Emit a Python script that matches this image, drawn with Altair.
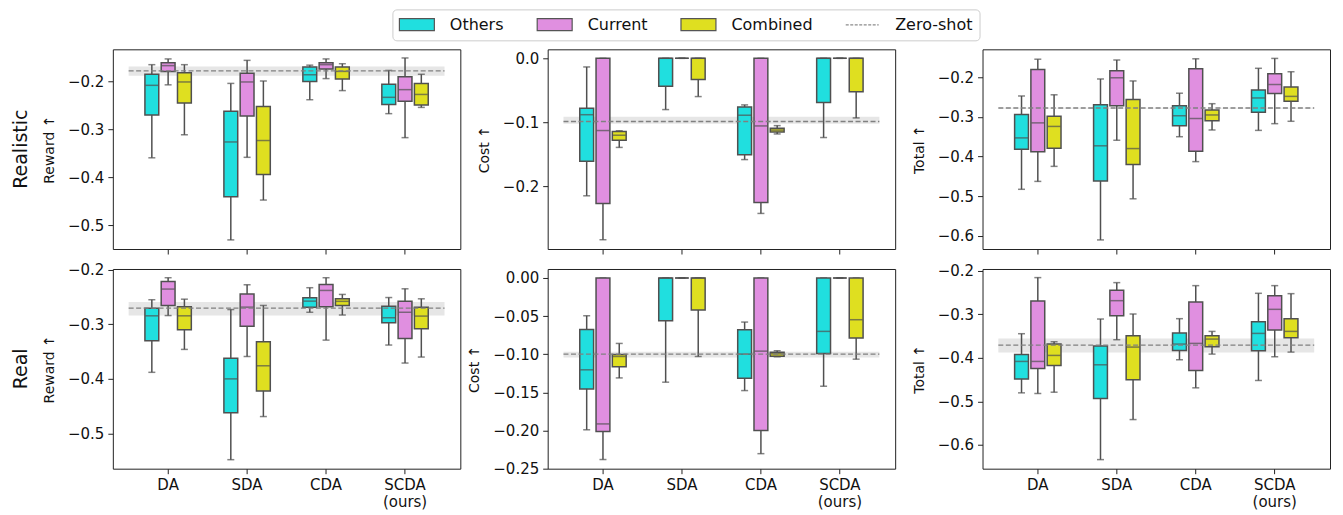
import altair as alt
import pandas as pd

FONT = "DejaVu Sans"
LINE = "#505050"

categories = ["DA", "SDA", "CDA", "SCDA (ours)"]
series_names = ["Others", "Current", "Combined"]
legend_names = ["Others", "Current", "Combined", "Zero-shot"]
series_colors = ["#20dfdf", "#e08fe0", "#dfdf20"]
row_labels = ["Realistic", "Real"]
metric_labels = ["Reward ↑", "Cost ↑", "Total ↑"]

# each tuple: (lower whisker, Q1, median, Q3, upper whisker), one per category
realistic_reward_others = [(-0.359, -0.270, -0.208, -0.185, -0.165), (-0.530, -0.440, -0.326, -0.262, -0.204),
                           (-0.238, -0.200, -0.186, -0.170, -0.166), (-0.267, -0.248, -0.233, -0.206, -0.177)]
realistic_reward_current = [(-0.207, -0.179, -0.167, -0.161, -0.153), (-0.358, -0.272, -0.201, -0.183, -0.156),
                            (-0.194, -0.174, -0.165, -0.161, -0.153), (-0.317, -0.241, -0.217, -0.190, -0.151)]
realistic_reward_combined = [(-0.311, -0.245, -0.201, -0.182, -0.165), (-0.447, -0.394, -0.323, -0.252, -0.199),
                             (-0.219, -0.195, -0.179, -0.170, -0.163), (-0.254, -0.249, -0.227, -0.204, -0.185)]

realistic_cost_others = [(-0.2145, -0.1605, -0.088, -0.078, -0.0135), (-0.080, -0.0436, 0.0, 0.0, 0.0),
                         (-0.158, -0.1506, -0.0888, -0.0758, -0.0727), (-0.1236, -0.069, 0.0, 0.0, 0.0)]
realistic_cost_current = [(-0.283, -0.2265, -0.1127, 0.0, 0.0), (0.0, 0.0, 0.0, 0.0, 0.0),
                          (-0.242, -0.225, -0.1055, 0.0, 0.0), (0.0, 0.0, 0.0, 0.0, 0.0)]
realistic_cost_combined = [(-0.139, -0.128, -0.120, -0.1143, -0.113), (-0.0597, -0.0332, 0.0, 0.0, 0.0),
                           (-0.118, -0.115, -0.112, -0.109, -0.105), (-0.093, -0.052, 0.0, 0.0, 0.0)]

realistic_total_others = [(-0.483, -0.382, -0.353, -0.294, -0.247), (-0.611, -0.462, -0.373, -0.269, -0.204),
                          (-0.350, -0.322, -0.297, -0.2716, -0.240), (-0.334, -0.288, -0.252, -0.232, -0.177)]
realistic_total_current = [(-0.463, -0.388, -0.315, -0.180, -0.154), (-0.359, -0.2716, -0.201, -0.183, -0.156),
                           (-0.413, -0.387, -0.304, -0.178, -0.153), (-0.317, -0.241, -0.218, -0.191, -0.152)]
realistic_total_combined = [(-0.425, -0.379, -0.324, -0.2985, -0.244), (-0.507, -0.420, -0.380, -0.256, -0.209),
                            (-0.333, -0.3095, -0.295, -0.2825, -0.2665), (-0.311, -0.2606, -0.248, -0.2244, -0.1857)]

real_reward_others = [(-0.388, -0.330, -0.2845, -0.2704, -0.255), (-0.548, -0.462, -0.400, -0.362, -0.273),
                      (-0.278, -0.269, -0.2576, -0.2514, -0.233), (-0.338, -0.297, -0.288, -0.267, -0.251)]
real_reward_current = [(-0.284, -0.2655, -0.2355, -0.2214, -0.2147), (-0.359, -0.3035, -0.2686, -0.2447, -0.2276),
                       (-0.329, -0.268, -0.238, -0.227, -0.2147), (-0.371, -0.326, -0.278, -0.2576, -0.235)]
real_reward_combined = [(-0.346, -0.310, -0.2845, -0.268, -0.254), (-0.469, -0.422, -0.376, -0.332, -0.2655),
                        (-0.283, -0.2655, -0.258, -0.2533, -0.2453), (-0.360, -0.308, -0.285, -0.269, -0.2533)]

real_cost_others = [(-0.199, -0.1454, -0.1204, -0.0674, -0.0495), (-0.1366, -0.056, 0.0, 0.0, 0.0),
                    (-0.1476, -0.1313, -0.0998, -0.0679, -0.0578), (-0.1419, -0.099, -0.070, 0.0, 0.0)]
real_cost_current = [(-0.238, -0.2014, -0.1913, 0.0, 0.0), (0.0, 0.0, 0.0, 0.0, 0.0),
                     (-0.2303, -0.2001, -0.0959, 0.0, 0.0), (0.0, 0.0, 0.0, 0.0, 0.0)]
real_cost_combined = [(-0.131, -0.1165, -0.1029, -0.1003, -0.0858), (-0.1029, -0.042, 0.0, 0.0, 0.0),
                      (-0.1033, -0.1025, -0.0994, -0.0972, -0.0954), (-0.1064, -0.0788, -0.0547, 0.0, 0.0)]

real_total_others = [(-0.4805, -0.449, -0.4084, -0.3923, -0.3448), (-0.6337, -0.4935, -0.4161, -0.3732, -0.3111),
                     (-0.4046, -0.3831, -0.3686, -0.3433, -0.3103), (-0.4521, -0.3839, -0.3441, -0.3172, -0.2521)]
real_total_current = [(-0.482, -0.4245, -0.4084, -0.2697, -0.2161), (-0.3586, -0.3034, -0.269, -0.2452, -0.2276),
                      (-0.469, -0.4291, -0.367, -0.272, -0.2345), (-0.3977, -0.3364, -0.2889, -0.2575, -0.2345)]
real_total_combined = [(-0.479, -0.4176, -0.3946, -0.3686, -0.3632), (-0.5418, -0.4506, -0.3755, -0.3494, -0.2996),
                       (-0.3916, -0.3747, -0.3571, -0.3494, -0.3395), (-0.387, -0.354, -0.3395, -0.3103, -0.2529)]

# zero-shot reference (mean and shaded band), one per panel
zero_shot = [-0.178, -0.0985, -0.2775, -0.2704, -0.0998, -0.3709]
zero_shot_low = [-0.188, -0.102, -0.2785, -0.2839, -0.1042, -0.3877]
zero_shot_high = [-0.169, -0.091, -0.2765, -0.2594, -0.0968, -0.3556]

y_domains = [[-0.549, -0.133], [-0.2975, 0.014], [-0.634, -0.129],
             [-0.5645, -0.1987], [-0.25, 0.0118], [-0.6545, -0.1963]]
y_ticks = [[-0.5, -0.4, -0.3, -0.2], [-0.2, -0.1, 0.0], [-0.6, -0.5, -0.4, -0.3, -0.2],
           [-0.5, -0.4, -0.3, -0.2], [-0.25, -0.2, -0.15, -0.1, -0.05, 0.0], [-0.6, -0.5, -0.4, -0.3, -0.2]]
y_formats = [".1f", ".1f", ".1f", ".1f", ".2f", ".1f"]

panel_stats = [
    (realistic_reward_others, realistic_reward_current, realistic_reward_combined),
    (realistic_cost_others, realistic_cost_current, realistic_cost_combined),
    (realistic_total_others, realistic_total_current, realistic_total_combined),
    (real_reward_others, real_reward_current, real_reward_combined),
    (real_cost_others, real_cost_current, real_cost_combined),
    (real_total_others, real_total_current, real_total_combined),
]


def box_frame(stats):
    rows = []
    for s_name, s_stats in zip(series_names, stats):
        for cat, (lo, q1, med, q3, hi) in zip(categories, s_stats):
            rows.append(dict(cat=cat, series=s_name, lo=lo, q1=q1, med=med, q3=q3, hi=hi))
    return pd.DataFrame(rows)


LEGEND = alt.Legend(
    title=None,
    orient="none",
    legendX=280,
    legendY=-40,
    direction="horizontal",
    symbolType={"expr": "datum.value === 'Zero-shot' ? 'M-2.75,0H2.75' : 'M-2.917,-1H2.917V1H-2.917Z'"},
    symbolSize=144,
    symbolOffset=9.5,
    symbolStrokeWidth=1.2,
    symbolStrokeColor={"expr": "datum.value === 'Zero-shot' ? '#8c8c8c' : '#555555'"},
    symbolDash={"expr": "datum.value === 'Zero-shot' ? [3, 1.5] : [1, 0]"},
    labelFont=FONT,
    labelFontSize=16,
    labelColor="#111111",
    labelOffset=25,
    columnPadding=30,
    padding=7,
    strokeColor="#cccccc",
    fillColor="white",
    cornerRadius=4,
)


def panel(i):
    r, c = divmod(i, 3)
    bottom = r == 1
    box_df = box_frame(panel_stats[i])
    zs_df = pd.DataFrame([dict(xs=categories[0], xe=categories[-1], m=zero_shot[i],
                               lo=zero_shot_low[i], hi=zero_shot_high[i])])
    xscale = alt.Scale(domain=categories, paddingInner=0, paddingOuter=0.2)
    xaxis = alt.Axis(title=None, labels=bottom, labelExpr="split(datum.label, ' ')", labelAngle=0,
                     ticks=True, domain=False, grid=False)
    yscale = alt.Scale(domain=y_domains[i], nice=False, zero=False)
    yaxis = alt.Axis(title=metric_labels[c], values=y_ticks[i], format=y_formats[i], grid=False, domain=False)

    def X(f, **kw):
        return alt.X(f, type="nominal", scale=xscale, axis=xaxis, **kw)

    def Y(f):
        return alt.Y(f, type="quantitative", scale=yscale, axis=yaxis)

    xo = alt.XOffset("series:N", scale=alt.Scale(domain=series_names, paddingInner=0.15, paddingOuter=1.0))

    zs = alt.Chart(zs_df)
    band = zs.mark_rect(color="#e6e6e6").encode(
        x=X("xs", bandPosition=0), x2=alt.X2("xe", bandPosition=1), y=Y("lo"), y2=alt.Y2("hi"))
    zline = zs.mark_rule(color="#808080", strokeWidth=1.4, strokeDash=[5, 2.5]).encode(
        x=X("xs", bandPosition=0), x2=alt.X2("xe", bandPosition=1), y=Y("m"))

    base = alt.Chart(box_df)
    whisk = base.mark_rule(color=LINE, strokeWidth=1.5).encode(
        x=X("cat"), xOffset=xo, y=Y("lo"), y2=alt.Y2("hi"))
    cap_lo = base.mark_tick(color=LINE, size=7, thickness=1.5).encode(x=X("cat"), xOffset=xo, y=Y("lo"))
    cap_hi = base.mark_tick(color=LINE, size=7, thickness=1.5).encode(x=X("cat"), xOffset=xo, y=Y("hi"))
    box = base.mark_bar(stroke=LINE, strokeWidth=1.5).encode(
        x=X("cat"), xOffset=xo, y=Y("q1"), y2=alt.Y2("q3"),
        fill=alt.Fill("series:N", scale=alt.Scale(domain=legend_names, range=series_colors + ["transparent"]),
                      legend=LEGEND))
    med = base.mark_tick(color=LINE, size=13, thickness=1.5).encode(x=X("cat"), xOffset=xo, y=Y("med"))

    layer = alt.layer(band, whisk, cap_lo, cap_hi, box, med, zline).properties(width=348, height=200)
    if c == 0:
        layer = layer.properties(title=alt.TitleParams(row_labels[r], orient="left", fontSize=19,
                                                       font=FONT, fontWeight="normal", color="#111111",
                                                       offset=12))
    return layer


chart = alt.concat(*[panel(i) for i in range(6)], columns=3, spacing={"row": 20, "column": 87.5}, bounds="flush")
chart = chart.resolve_scale(x="independent", y="independent", fill="shared").resolve_legend(fill="shared")
chart = chart.properties(padding={"left": 3, "top": 0, "right": 4, "bottom": 0})
chart = chart.configure_view(stroke="#222222", strokeWidth=1).configure_axis(
    labelFont=FONT, labelFontSize=15, labelColor="#111111", titleFont=FONT, titleFontSize=14,
    titleFontWeight="normal", titleColor="#111111", tickColor="#222222", tickSize=5, tickWidth=1,
    labelPadding=4, titlePadding=11, labelLineHeight=17)

chart.save("out.html", embed_options={"renderer": "svg", "actions": False})
